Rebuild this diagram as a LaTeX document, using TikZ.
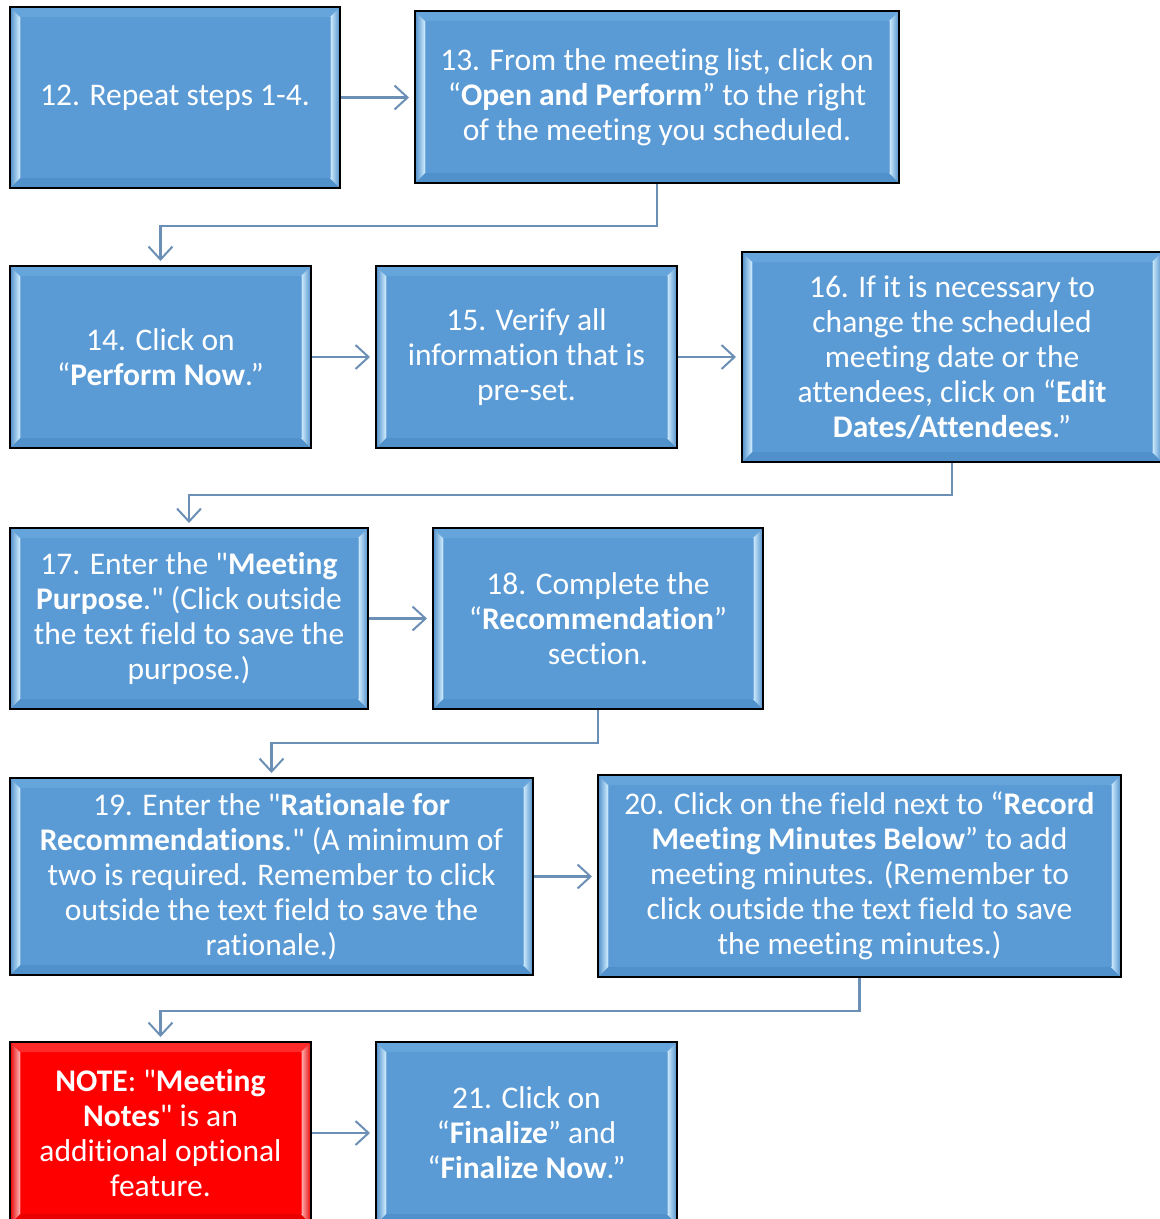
\documentclass[tikz,border=0pt]{standalone}
\usepackage{fontspec}
\setmainfont{Carlito}[Ligatures={TeXOff,NoCommon}]
\usetikzlibrary{arrows.meta,calc}
\definecolor{boxblue}{HTML}{5B9BD5}
\definecolor{bevtop}{HTML}{66A4DC}
\definecolor{bevbot}{HTML}{5090CB}
\definecolor{bevout}{HTML}{4F8DCA}
\definecolor{bevin}{HTML}{D2F0FF}
\definecolor{boxred}{HTML}{FF0000}
\definecolor{redtop}{HTML}{FF2A2A}
\definecolor{redbot}{HTML}{E80000}
\definecolor{redout}{HTML}{E80000}
\definecolor{redin}{HTML}{FFB9B9}
\definecolor{conncol}{HTML}{6C8FB6}
\tikzset{
  bevel/.style n args={5}{path picture={
    \coordinate (pnw) at (path picture bounding box.north west);
    \coordinate (pne) at (path picture bounding box.north east);
    \coordinate (psw) at (path picture bounding box.south west);
    \coordinate (pse) at (path picture bounding box.south east);
    \fill[#1] (pnw) -- (pne) -- ($(pne)+(-10,10)$) -- ($(pnw)+(10,10)$) -- cycle;
    \fill[#2] (psw) -- (pse) -- ($(pse)+(-10,-10)$) -- ($(psw)+(10,-10)$) -- cycle;
    \fill[left color=#3,right color=#4] (pnw) -- ($(pnw)+(10,10)$) -- ($(psw)+(10,-10)$) -- (psw) -- cycle;
    \fill[left color=#4,right color=#3] (pne) -- ($(pne)+(-10,10)$) -- ($(pse)+(-10,-10)$) -- (pse) -- cycle;
    \draw[#5,line width=0.6pt] ($(pnw)+(10,10)$) -- ($(psw)+(10,-10)$);
    \draw[#5,line width=0.6pt] ($(pne)+(-10,10)$) -- ($(pse)+(-10,-10)$);
  }},
  stepbox/.style={rectangle, draw=black, line width=2pt, fill=boxblue, text=white,
    align=center, inner sep=0pt, font=\fontsize{31.5}{35}\selectfont,
    bevel={bevtop}{bevbot}{bevout}{bevin}{boxblue!80!white}},
  notebox/.style={stepbox, fill=boxred,
    bevel={redtop}{redbot}{redout}{redin}{boxred!80!white}},
  conn/.style={draw=conncol, line width=2.2pt, -{Straight Barb[length=13pt,width=24pt,line width=2pt]}, shorten >=5pt},
}
\begin{document}
\begin{tikzpicture}[x=1pt,y=-1pt]
\useasboundingbox (0,0) rectangle (1160,1219);
\clip (0,0) rectangle (1160,1219);
\fill[white] (0,0) rectangle (1160,1219);

\node[stepbox, minimum width=330, minimum height=181] (b12) at (175,97.5)
  {12. Repeat steps 1-4.};
\node[stepbox, minimum width=484, minimum height=172] (b13) at (657,97)
  {13. From the meeting list, click on\\ “\textbf{Open and Perform}” to the right\\ of the meeting you scheduled.};
\node[stepbox, minimum width=301, minimum height=182] (b14) at (160.5,357)
  {14. Click on\\ “\textbf{Perform Now}.”};
\node[stepbox, minimum width=301, minimum height=182] (b15) at (526.5,357)
  {15. Verify all\\ information that is\\ pre-set.};
\node[stepbox, minimum width=420, minimum height=210] (b16) at (952,357)
  {16. If it is necessary to\\ change the scheduled\\ meeting date or the\\ attendees, click on “\textbf{Edit}\\ \textbf{Dates/Attendees}.”};
\node[stepbox, minimum width=358, minimum height=181] (b17) at (189,618.5)
  {17. Enter the "\textbf{Meeting}\\ \textbf{Purpose}." (Click outside\\ the text field to save the\\ purpose.)};
\node[stepbox, minimum width=330, minimum height=181] (b18) at (598,618.5)
  {18. Complete the\\ “\textbf{Recommendation}”\\ section.};
\node[stepbox, minimum width=523, minimum height=197] (b19) at (271.5,876.5)
  {19. Enter the "\textbf{Rationale for}\\ \textbf{Recommendations}." (A minimum of\\ two is required. Remember to click\\ outside the text field to save the\\ rationale.)};
\node[stepbox, minimum width=523, minimum height=202] (b20) at (859.5,876)
  {20. Click on the field next to “\textbf{Record}\\ \textbf{Meeting Minutes Below}” to add\\ meeting minutes. (Remember to\\ click outside the text field to save\\ the meeting minutes.)};
\node[notebox, minimum width=301, minimum height=182] (note) at (160.5,1133)
  {\textbf{NOTE}: "\textbf{Meeting}\\ \textbf{Notes}" is an\\ additional optional\\ feature.};
\node[stepbox, minimum width=301, minimum height=182] (b21) at (526.5,1133)
  {21. Click on\\ “\textbf{Finalize}” and\\ “\textbf{Finalize Now}.”};

\draw[conn] (b12.east) -- (b12.east -| b13.west);
\draw[conn, shorten >=4pt] (b13.south) -- ++(0,42) -| (b14.north);
\draw[conn] (b14.east) -- (b15.west);
\draw[conn] (b15.east) -- (b16.west);
\draw[conn, shorten >=4pt] (b16.south) -- ++(0,32) -| (b17.north);
\draw[conn] (b17.east) -- (b18.west);
\draw[conn, shorten >=4pt] (b18.south) -- ++(0,33) -| (b19.north);
\draw[conn] (b19.east) -- (b19.east -| b20.west);
\draw[conn, shorten >=4pt] (b20.south) -- ++(0,33) -| (note.north);
\draw[conn] (note.east) -- (b21.west);
\end{tikzpicture}
\end{document}
